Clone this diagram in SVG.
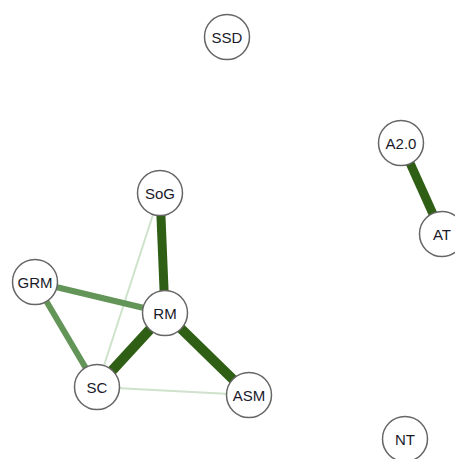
<svg xmlns="http://www.w3.org/2000/svg" width="455" height="459" viewBox="0 0 455 459">
<style>
.node circle{fill:#fff;stroke:#666;stroke-width:1.5}
.node text{font-family:"Liberation Sans",Arial,sans-serif;font-size:15px;fill:#1a1a2a;text-anchor:middle;dominant-baseline:central}
.e{stroke-linecap:butt}
.dark{stroke:#2f5f14}
.mid{stroke:#649558}
.light{stroke:#cfe2cb}
</style>
<rect width="455" height="459" fill="#fff"/>
<g id="connectors">
<line class="e light" x1="160" y1="193" x2="97" y2="387" stroke-width="2"/>
<line class="e light" x1="97" y1="387" x2="249" y2="395" stroke-width="2"/>
<line class="e mid" x1="35" y1="282" x2="165" y2="313" stroke-width="6"/>
<line class="e mid" x1="35" y1="282" x2="97" y2="387" stroke-width="6"/>
<line class="e dark" x1="160" y1="193" x2="165" y2="313" stroke-width="9"/>
<line class="e dark" x1="165" y1="313" x2="97" y2="387" stroke-width="10"/>
<line class="e dark" x1="165" y1="313" x2="249" y2="395" stroke-width="10"/>
<line class="e dark" x1="401" y1="143" x2="442" y2="234" stroke-width="9"/>
</g>
<g id="SSD" class="node"><circle cx="227" cy="37" r="22.5"/><text x="227" y="37">SSD</text></g>
<g id="A2.0" class="node"><circle cx="401" cy="143" r="22.5"/><text x="401" y="143">A2.0</text></g>
<g id="AT" class="node"><circle cx="442" cy="234" r="22.5"/><text x="442" y="234">AT</text></g>
<g id="SoG" class="node"><circle cx="160" cy="193" r="22.5"/><text x="160" y="193">SoG</text></g>
<g id="GRM" class="node"><circle cx="35" cy="282" r="22.5"/><text x="35" y="282">GRM</text></g>
<g id="RM" class="node"><circle cx="165" cy="313" r="22.5"/><text x="165" y="313">RM</text></g>
<g id="SC" class="node"><circle cx="97" cy="387" r="22.5"/><text x="97" y="387">SC</text></g>
<g id="ASM" class="node"><circle cx="249" cy="395" r="22.5"/><text x="249" y="395">ASM</text></g>
<g id="NT" class="node"><circle cx="405" cy="439" r="22.5"/><text x="405" y="439">NT</text></g>
</svg>
